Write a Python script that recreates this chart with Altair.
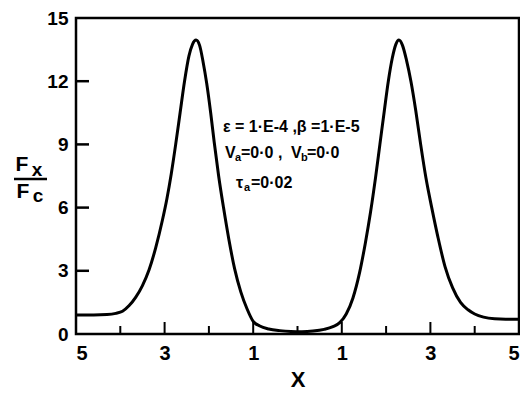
import altair as alt
import pandas as pd

# Curve
xs = [-5.0, -4.6, -4.3, -4.1, -3.95, -3.8, -3.65, -3.5, -3.35, -3.2, -3.05, -2.95, -2.85,
      -2.75, -2.65, -2.55, -2.45, -2.37, -2.29, -2.21, -2.13, -2.05, -1.96, -1.88, -1.78,
      -1.67, -1.55, -1.42, -1.28, -1.14, -1.0, -0.85, -0.65, -0.4, -0.15, 0.1, 0.35, 0.6,
      0.8, 0.96, 1.1, 1.25, 1.4, 1.53, 1.65, 1.76, 1.86, 1.96, 2.05, 2.14, 2.22, 2.29,
      2.37, 2.46, 2.56, 2.67, 2.78, 2.9, 3.03, 3.17, 3.33, 3.5, 3.68, 3.85, 4.0, 4.2,
      4.45, 4.7, 5.0]
ys = [0.9, 0.9, 0.92, 0.98, 1.08, 1.35, 1.75, 2.3, 3.05, 4.1, 5.4, 6.4, 7.6,
      9.0, 10.5, 12.0, 13.2, 13.75, 13.95, 13.7, 12.9, 11.9, 10.5, 9.1, 7.5,
      6.0, 4.5, 3.1, 2.0, 1.2, 0.6, 0.38, 0.24, 0.16, 0.12, 0.11, 0.14, 0.22,
      0.35, 0.55, 0.95, 1.7, 2.9, 4.3, 5.8, 7.4, 9.0, 10.6, 12.0, 13.1, 13.75, 13.95,
      13.7, 13.0, 12.0, 10.6, 9.0, 7.4, 6.0, 4.6, 3.2, 2.2, 1.5, 1.15, 0.95, 0.8,
      0.72, 0.7, 0.7]

x_label_values = [-5, -3, -1, 1, 3, 5]
y_label_values = [0, 3, 6, 9, 12, 15]
y_tick_values = [3, 6, 9, 12]
x_major_ticks = [-3, -1, 1, 3]
x_minor_ticks = [-4, -2, 0, 2, 4]

FONT = "Liberation Sans"
W, H = 443, 316
TOP = 10

curve = pd.DataFrame({"x": xs, "y": ys})

xscale = alt.Scale(domain=[-5, 5], nice=False, zero=False)
yscale = alt.Scale(domain=[0, 15], nice=False)
xaxis = alt.Axis(values=x_label_values, labelExpr="abs(datum.value)", title="X",
                 labelFontSize=20, labelPadding=9, titleFontSize=22, titlePadding=6,
                 titleFont=FONT, titleFontWeight="bold")
yaxis = alt.Axis(values=y_label_values, title=None, labelFontSize=19, labelPadding=8)


def X(field):
    return alt.X(field, type="quantitative", scale=xscale, axis=xaxis)


def Y(field):
    return alt.Y(field, type="quantitative", scale=yscale, axis=yaxis)


line = alt.Chart(curve).mark_line(color="black", strokeWidth=3, interpolate="monotone").encode(
    x=X("x"), y=Y("y"))

yt = alt.Chart(pd.DataFrame({"v": y_tick_values})).mark_rule(color="black", strokeWidth=2.5).encode(
    y=Y("v"), x=alt.value(0), x2=alt.value(13))
xt_major = alt.Chart(pd.DataFrame({"v": x_major_ticks})).mark_rule(color="black", strokeWidth=2).encode(
    x=X("v"), y=alt.value(H), y2=alt.value(H - 12))
xt_minor = alt.Chart(pd.DataFrame({"v": x_minor_ticks})).mark_rule(color="black", strokeWidth=2).encode(
    x=X("v"), y=alt.value(H), y2=alt.value(H - 8))


def txt(s, x, y, size=16, align="left"):
    return alt.Chart(pd.DataFrame({"t": [s]})).mark_text(
        font=FONT, fontWeight="bold", fontSize=size, align=align, baseline="middle", color="black"
    ).encode(text="t:N", x=alt.value(x), y=alt.value(y))


ann = [
    txt("ε = 1·E-4 ,β =1·E-5", 147, 109),
    txt("V", 149, 135), txt("a", 159, 140, 11), txt("=0·0 ,", 165, 135),
    txt("V", 215, 135), txt("b", 225, 140, 11), txt("=0·0", 231, 135),
    txt("τ", 160, 165), txt("a", 168, 170, 11), txt("=0·02", 175, 165),
]

ytitle = [
    txt("F", -54, 147, 21, "center"), txt("x", -39, 152, 19, "center"),
    txt("F", -53, 174, 21, "center"), txt("c", -38, 178, 19, "center"),
    alt.Chart(pd.DataFrame({"t": [0]})).mark_rule(color="black", strokeWidth=2.5).encode(
        x=alt.value(-62), x2=alt.value(-29), y=alt.value(161)),
]

chart = alt.layer(line, yt, xt_major, xt_minor, *ann, *ytitle).properties(
    width=W, height=H, autosize="none",
    padding={"left": 68, "top": TOP, "right": 1, "bottom": 60},
).configure_view(stroke="black", strokeWidth=2.5).configure_axis(
    domain=False, ticks=False, tickSize=0, grid=False, labelFont=FONT, labelFontWeight="bold",
    labelColor="black", titleColor="black")

chart.save("out.html", embed_options={"renderer": "svg", "actions": False})
